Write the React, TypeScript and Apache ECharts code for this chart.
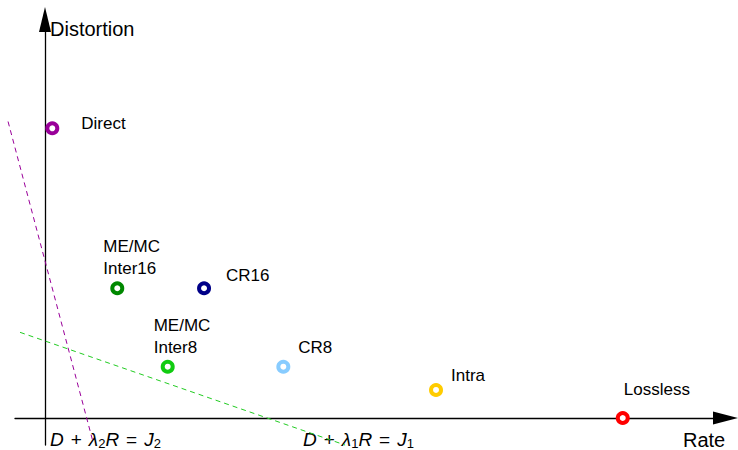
import React, { useEffect, useRef } from "react";
import * as echarts from "echarts";

// Rate–distortion operating points
const pointNames = ["Direct", "ME/MC\nInter16", "CR16", "ME/MC\nInter8", "CR8", "Intra", "Lossless"];
const rateValues = [1.07, 10.62, 23.37, 18.03, 35.02, 57.46, 84.9];
const distortionValues = [72.7, 32.55, 32.55, 12.87, 12.87, 7.03, 0];
const pointColors = ["#990099", "#008800", "#000088", "#11cc11", "#88ccff", "#ffcc00", "#ff0000"];
// label offsets (style, not data)
const labelOffsets: [number, number][] = [
  [29, -5], [-14, -31], [22, -13], [-14, -30], [15, -19], [15, -14], [1, -28],
];

// Lagrangian lines D + λR = J (two end points each)
const lineJ2Rate = [-5.43, 6.98];
const lineJ2Dist = [74.4, -5.52];
const lineJ1Rate = [-3.67, 44.1];
const lineJ1Dist = [21.5, -6.78];

const axisNames = { x: "Rate", y: "Distortion" };

export default function App() {
  const ref = useRef<HTMLDivElement>(null);
  useEffect(() => {
    if (!ref.current) return;
    const chart = echarts.init(ref.current, undefined, { renderer: "svg" });
    const font = "Liberation Sans, Arial, Helvetica, sans-serif";
    const rich = {
      i: { fontStyle: "italic", fontSize: 19, fontFamily: font, color: "#000", lineHeight: 22 },
      op: { fontSize: 19, fontFamily: font, color: "#000", lineHeight: 22 },
      s: { fontSize: 14, fontFamily: font, color: "#000", lineHeight: 22 },
      sub: { fontSize: 13, fontFamily: font, color: "#000", lineHeight: 13, verticalAlign: "bottom" },
    };
    const hiddenAxis = {
      type: "value",
      show: false,
      axisLabel: { show: false },
      axisTick: { show: false },
      splitLine: { show: false },
      axisLine: { show: false },
    };
    const sp = "{s|\u2002}";
    const formula = (k: string) =>
      `{i|D}${sp}{op|+}${sp}{i|λ}{sub|${k}}{i|R}${sp}{op|=}${sp}{i|J}{sub|${k}}`;
    chart.setOption({
      animation: false,
      grid: [
        { left: 15, right: 12.5, top: 19.5, bottom: 5 },
        { left: 0, right: 0, top: 0, bottom: 0 },
      ],
      xAxis: [
        {
          type: "value",
          gridIndex: 0,
          min: -4.41,
          max: 100,
          axisLabel: { show: false },
          axisTick: { show: false },
          splitLine: { show: false },
          axisLine: {
            show: true,
            onZero: true,
            symbol: ["none", "triangle"],
            symbolSize: [13, 25],
            lineStyle: { color: "#000", width: 1.3 },
          },
        },
        { ...hiddenAxis, gridIndex: 1, min: -6.613, max: 101.84 },
      ],
      yAxis: [
        {
          type: "value",
          gridIndex: 0,
          min: -6.78,
          max: 100,
          axisLabel: { show: false },
          axisTick: { show: false },
          splitLine: { show: false },
          axisLine: {
            show: true,
            onZero: true,
            symbol: ["none", "triangle"],
            symbolSize: [12, 25],
            lineStyle: { color: "#000", width: 1.3 },
          },
        },
        { ...hiddenAxis, gridIndex: 1, min: -8.03, max: 104.89 },
      ],
      series: [
        {
          type: "line",
          xAxisIndex: 1,
          yAxisIndex: 1,
          symbol: "none",
          silent: true,
          lineStyle: { color: "#990099", width: 1, type: [5, 4] },
          data: lineJ2Rate.map((r, i) => [r, lineJ2Dist[i]]),
        },
        {
          type: "line",
          xAxisIndex: 1,
          yAxisIndex: 1,
          symbol: "none",
          silent: true,
          lineStyle: { color: "#22cc22", width: 1, type: [5, 4] },
          data: lineJ1Rate.map((r, i) => [r, lineJ1Dist[i]]),
        },
        {
          type: "scatter",
          xAxisIndex: 0,
          yAxisIndex: 0,
          clip: false,
          symbol: "circle",
          symbolSize: 10,
          data: pointNames.map((n, i) => ({
            name: n,
            value: [rateValues[i], distortionValues[i]],
            itemStyle: { color: "#fff", borderColor: pointColors[i], borderWidth: 4, opacity: 1 },
            label: {
              show: true,
              position: "inside",
              align: "left",
              verticalAlign: "middle",
              offset: labelOffsets[i],
              formatter: "{b}",
              color: "#000",
              fontSize: 17,
              lineHeight: 21.7,
              fontFamily: font,
            },
          })),
        },
      ],
      graphic: [
        {
          type: "text",
          x: 50,
          y: 28.7,
          style: { text: axisNames.y, fontSize: 20, fontFamily: font, fill: "#000", align: "left", verticalAlign: "middle" },
        },
        {
          type: "text",
          x: 683,
          y: 440,
          style: { text: axisNames.x, fontSize: 20, fontFamily: font, fill: "#000", align: "left", verticalAlign: "middle" },
        },
        {
          type: "text",
          x: 50,
          y: 439,
          style: { text: formula("2"), rich, align: "left", verticalAlign: "middle" },
        },
        {
          type: "text",
          x: 303,
          y: 439,
          style: { text: formula("1"), rich, align: "left", verticalAlign: "middle" },
        },
      ],
    });
    return () => chart.dispose();
  }, []);
  return (
    <div
      ref={ref}
      style={{ position: "absolute", left: 0, top: 0, width: 738, height: 450, background: "#fff" }}
    />
  );
}
